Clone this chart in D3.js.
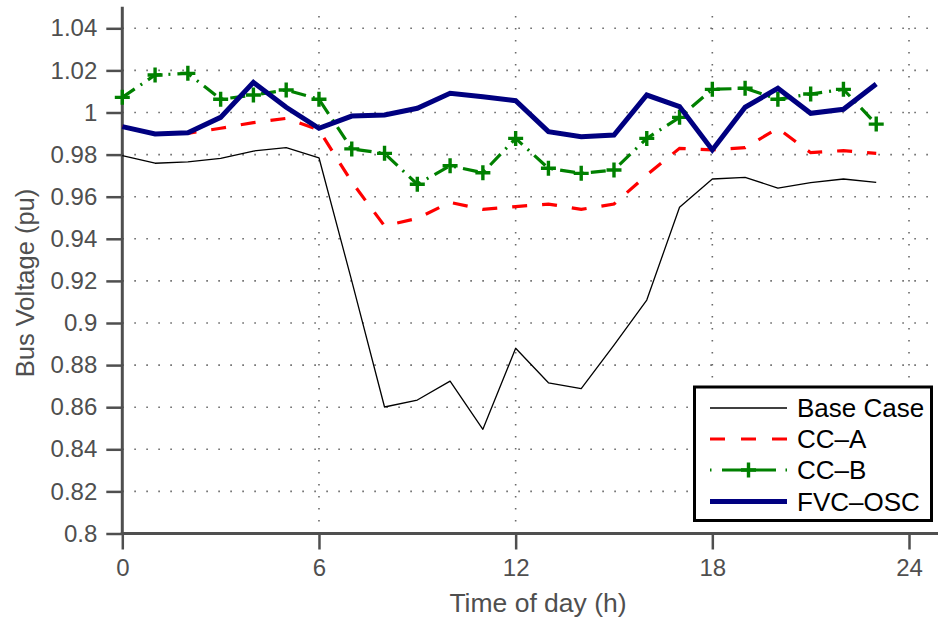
<!DOCTYPE html>
<html>
<head>
<meta charset="utf-8">
<script src="https://cdn.jsdelivr.net/npm/d3@7"></script>
<style>
  html, body { margin: 0; padding: 0; background: #fff; }
  svg { display: block; font-family: "Liberation Sans", Arial, Helvetica, sans-serif; }
</style>
</head>
<body>
<svg id="chart" width="938" height="621"></svg>
<script>
// ---- data ----
const hours = d3.range(0, 24);
const baseCase = [0.9795, 0.9759, 0.9765, 0.9782, 0.9817, 0.9833, 0.9785, 0.9200, 0.8601, 0.8634, 0.8724, 0.8495,
                  0.8880, 0.8716, 0.8688, 0.8895, 0.9109, 0.9550, 0.9684, 0.9692, 0.9641, 0.9667, 0.9684, 0.9668];
const ccA = [0.9933, 0.9898, 0.9901, 0.9925, 0.9952, 0.9972, 0.9917, 0.9670, 0.9461, 0.9497, 0.9573, 0.9540,
             0.9553, 0.9565, 0.9540, 0.9565, 0.9703, 0.9830, 0.9822, 0.9833, 0.9925, 0.9809, 0.9819, 0.9806];
const ccB = [1.0072, 1.0178, 1.0186, 1.0063, 1.0083, 1.0107, 1.0063, 0.9827, 0.9806, 0.9659, 0.9747, 0.9714,
             0.9877, 0.9735, 0.9711, 0.9727, 0.9877, 0.9977, 1.0110, 1.0115, 1.0063, 1.0088, 1.0110, 0.9945];
const fvcOsc = [0.9933, 0.9898, 0.9904, 0.9977, 1.0143, 1.0025, 0.9925, 0.9983, 0.9988, 1.0020, 1.0091, 1.0075,
                1.0056, 0.9909, 0.9885, 0.9893, 1.0083, 1.0028, 0.9822, 1.0025, 1.0115, 0.9996, 1.0015, 1.0135];
const seriesNames = ["Base Case", "CC\u2013A", "CC\u2013B", "FVC\u2013OSC"];
const xTicks = [0, 6, 12, 18, 24];
const yTicks = [0.80, 0.82, 0.84, 0.86, 0.88, 0.90, 0.92, 0.94, 0.96, 0.98, 1.00, 1.02, 1.04];
const yTickLabels = ["0.8", "0.82", "0.84", "0.86", "0.88", "0.9", "0.92", "0.94", "0.96", "0.98", "1", "1.02", "1.04"];
const xTitle = "Time of day (h)";
const yTitle = "Bus Voltage (pu)";

// ---- layout ----
const svg = d3.select("#chart");
const x = d3.scaleLinear().domain([0, 24]).range([122.3, 909]);
const y = d3.scaleLinear().domain([0.8, 1.04]).range([533.5, 28.3]);
const axisColor = "#4f4f4f";
const xEnd = 940, yTop = 6.7;

// grid
const grid = svg.append("g");
grid.selectAll("line.h").data(yTicks.slice(1)).enter().append("line")
  .attr("x1", x(0)).attr("x2", xEnd).attr("y1", d => y(d)).attr("y2", d => y(d))
  .attr("stroke", "#6a6a6a").attr("stroke-width", 1.6).attr("stroke-dasharray", "1.6,10.4");
grid.selectAll("line.v").data(xTicks.slice(1)).enter().append("line")
  .attr("x1", d => x(d)).attr("x2", d => x(d)).attr("y1", y(0.8)).attr("y2", yTop)
  .attr("stroke", "#6a6a6a").attr("stroke-width", 1.6).attr("stroke-dasharray", "1.6,10.4");

// axes
const yAxis = d3.axisLeft(y).tickValues(yTicks).tickSize(16).tickPadding(9)
  .tickFormat((d, i) => yTickLabels[i]);
const gy = svg.append("g").attr("transform", `translate(${x(0)},0)`).call(yAxis);
const xAxis = d3.axisBottom(x).tickValues(xTicks).tickSize(16).tickPadding(9).tickFormat(d3.format("d"));
const gx = svg.append("g").attr("transform", `translate(0,${y(0.8)})`).call(xAxis);
[gx, gy].forEach(g => {
  g.select(".domain").remove();
  g.selectAll(".tick line").attr("stroke", axisColor).attr("stroke-width", 2.5);
  g.selectAll(".tick text").attr("fill", axisColor).attr("font-size", 24)
    .attr("font-family", "'Liberation Sans', Arial, sans-serif");
});
svg.append("line").attr("x1", x(0)).attr("x2", x(0)).attr("y1", yTop).attr("y2", y(0.8) + 1.2)
  .attr("stroke", axisColor).attr("stroke-width", 3);
svg.append("line").attr("x1", x(0) - 1.5).attr("x2", xEnd).attr("y1", y(0.8)).attr("y2", y(0.8))
  .attr("stroke", axisColor).attr("stroke-width", 3);

// axis titles
svg.append("text").attr("x", 538).attr("y", 612).attr("text-anchor", "middle")
  .attr("font-size", 26.5).attr("fill", axisColor).text(xTitle);
svg.append("text").attr("transform", "translate(33.5,283) rotate(-90)").attr("text-anchor", "middle")
  .attr("font-size", 25.5).attr("fill", axisColor).text(yTitle);

// lines
const line = d3.line().x((d, i) => x(hours[i])).y(d => y(d));
const plot = svg.append("g");
plot.append("path").datum(baseCase).attr("d", line).attr("fill", "none")
  .attr("stroke", "#000").attr("stroke-width", 1.3).attr("stroke-linejoin", "round");
plot.append("path").datum(ccA).attr("d", line).attr("fill", "none")
  .attr("stroke", "#ff0000").attr("stroke-width", 3.2).attr("stroke-dasharray", "15,15");
plot.append("path").datum(ccB).attr("d", line).attr("fill", "none")
  .attr("stroke", "#008000").attr("stroke-width", 3.2).attr("stroke-dasharray", "15,7,2,7");
plot.selectAll("path.plus").data(ccB).enter().append("path")
  .attr("d", (d, i) => `M${x(hours[i]) - 7.5},${y(d)}h15M${x(hours[i])},${y(d) - 7.5}v15`)
  .attr("stroke", "#008000").attr("stroke-width", 3.4).attr("fill", "none");
plot.append("path").datum(fvcOsc).attr("d", line).attr("fill", "none")
  .attr("stroke", "#000080").attr("stroke-width", 5).attr("stroke-linejoin", "miter");

// legend
const lg = svg.append("g");
lg.append("rect").attr("x", 694.5).attr("y", 387).attr("width", 237).attr("height", 133.5)
  .attr("fill", "#fff").attr("stroke", "#000").attr("stroke-width", 3);
const styles = [
  { c: "#000", w: 1.3, dash: null },
  { c: "#ff0000", w: 3.2, dash: "15,16" },
  { c: "#008000", w: 3.2, dash: null },
  { c: "#000080", w: 5, dash: null }
];
const rowY = [408, 439, 470, 501.5];
seriesNames.forEach((name, i) => {
  const yy = rowY[i];
  if (i === 2) {
    lg.append("path").attr("d", `M710,${yy}h1.5M722,${yy}h54M785.5,${yy}h1.5`)
      .attr("stroke", styles[i].c).attr("stroke-width", 3.2);
    lg.append("path").attr("d", `M741,${yy}h15M748.5,${yy - 7.5}v15`)
      .attr("stroke", styles[i].c).attr("stroke-width", 3.4);
  } else {
    const ln = lg.append("line").attr("x1", 710).attr("x2", 787).attr("y1", yy).attr("y2", yy)
      .attr("stroke", styles[i].c).attr("stroke-width", styles[i].w);
    if (styles[i].dash) ln.attr("stroke-dasharray", styles[i].dash);
  }
  lg.append("text").attr("x", 797).attr("y", yy).attr("dy", "0.36em")
    .attr("font-size", 26).attr("fill", "#000").text(name);
});
</script>
</body>
</html>
